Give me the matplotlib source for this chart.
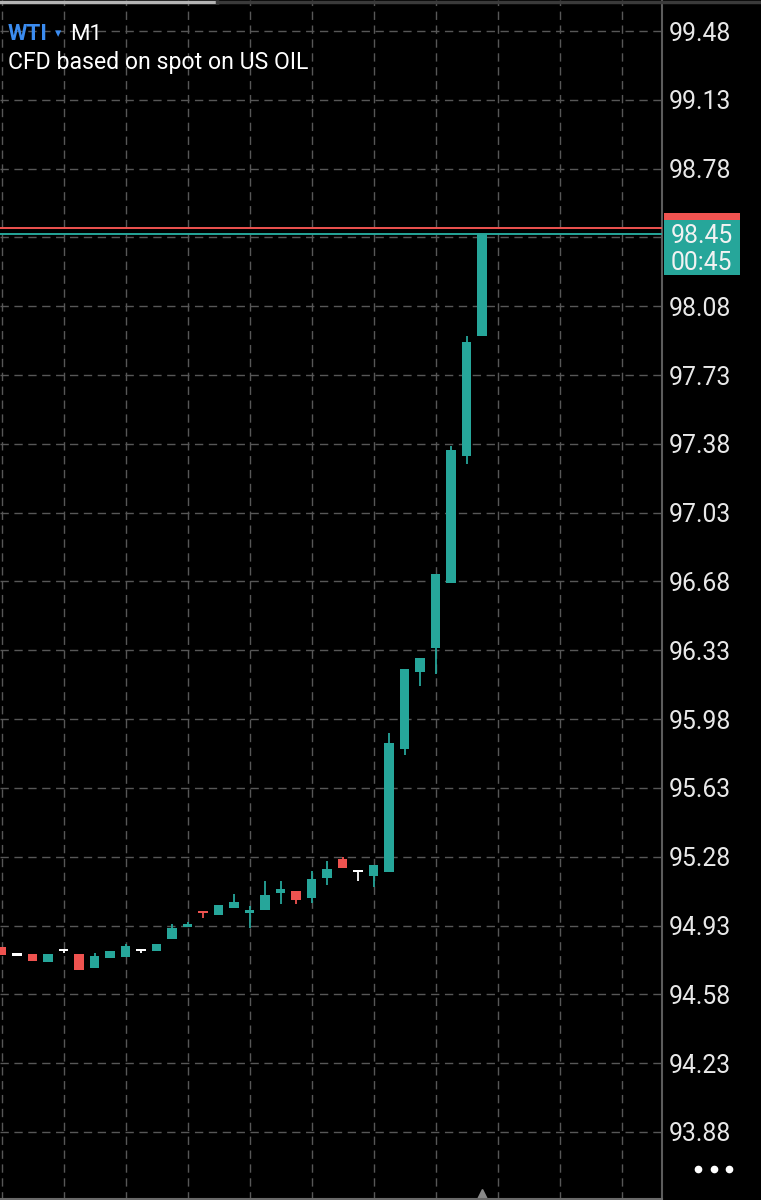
import matplotlib
matplotlib.use("Agg")
import matplotlib.pyplot as plt
from matplotlib.patches import Rectangle
from matplotlib.lines import Line2D
import matplotlib.transforms as mtransforms

# ---- data ----
opens  = [94.820, 94.777, 94.787, 94.744, 94.799, 94.787, 94.713, 94.765,
          94.772, 94.799, 94.802, 94.860, 94.922, 95.000, 94.984, 95.021,
          94.994, 95.010, 95.094, 95.106, 95.070, 95.173, 95.267, 95.200,
          95.183, 95.200, 95.830, 96.220, 96.340, 96.670, 97.320, 97.930]
highs  = [94.820, 94.777, 94.787, 94.787, 94.811, 94.787, 94.789, 94.799,
          94.838, 94.799, 94.838, 94.938, 94.949, 95.000, 95.036, 95.090,
          95.028, 95.155, 95.155, 95.106, 95.209, 95.257, 95.279, 95.200,
          95.239, 95.910, 96.235, 96.290, 96.720, 97.370, 97.930, 98.450]
lows   = [94.781, 94.777, 94.752, 94.744, 94.789, 94.702, 94.713, 94.765,
          94.772, 94.789, 94.802, 94.860, 94.922, 94.968, 94.984, 95.021,
          94.920, 95.010, 95.039, 95.039, 95.045, 95.138, 95.223, 95.158,
          95.125, 95.200, 95.800, 96.150, 96.210, 96.670, 97.280, 97.930]
closes = [94.781, 94.777, 94.752, 94.787, 94.799, 94.702, 94.777, 94.799,
          94.826, 94.799, 94.838, 94.916, 94.938, 94.992, 95.036, 95.050,
          95.007, 95.087, 95.116, 95.062, 95.167, 95.218, 95.223, 95.200,
          95.239, 95.860, 96.235, 96.290, 96.720, 97.350, 97.900, 98.450]
bid_price = 98.45
ask_price = 98.48
countdown = "00:45"
price_ticks = [93.88, 94.23, 94.58, 94.93, 95.28, 95.63, 95.98, 96.33, 96.68,
               97.03, 97.38, 97.73, 98.08, 98.43, 98.78, 99.13, 99.48]
hidden_tick = 98.43  # label covered by the live price box
symbol = "WTI"
timeframe = "M1"
description = "CFD based on spot on US OIL"

# ---- style ----
TEAL = "#26a69a"
RED = "#ef5350"
WHITE = "#ffffff"
GRID = "#575757"
TXT = "#e8e8e8"
plt.rcParams["font.family"] = ["Roboto", "DejaVu Sans"]
plt.rcParams["lines.scale_dashes"] = False

W, H = 761, 1200
fig = plt.figure(figsize=(W / 100, H / 100), dpi=100, facecolor="black")
ax = fig.add_axes([0, 0, 662 / W, 1])
ax.set_facecolor("black")

px_per = 196.6  # pixels per dollar
ax.set_ylim(93.88 - 68 / px_per, 99.48 + 31 / px_per)
ax.set_xlim(-1.5 / 15.5, (662 - 1.5) / 15.5)

# grid
ax.set_xticks(list(range(0, 44, 4)))
ax.set_yticks(price_ticks)
ax.set_yticklabels(["" if p == hidden_tick else f"{p:.2f}" for p in price_ticks])
ax.grid(True, color=GRID, linewidth=1.0, linestyle=(0, (6, 4)))
ax.set_axisbelow(True)
ax.yaxis.tick_right()
ax.tick_params(axis="y", length=0, pad=4.5, labelsize=17.8, labelcolor=TXT)
ax.tick_params(axis="x", length=0, labelbottom=False)
for s in ["top", "left", "bottom"]:
    ax.spines[s].set_visible(False)
ax.spines["right"].set_color("#5c5c5c")
ax.spines["right"].set_linewidth(1.5)

# candles
xs = list(range(len(opens)))
colors = []
for o, c in zip(opens, closes):
    if c > o:
        colors.append(TEAL)
    elif c < o:
        colors.append(RED)
    else:
        colors.append(WHITE)
bottoms = [min(o, c) for o, c in zip(opens, closes)]
heights = [max(abs(c - o), 2.2 / px_per) for o, c in zip(opens, closes)]
ax.vlines(xs, lows, highs, colors=colors, linewidth=1.3, zorder=3)
ax.bar(xs, heights, bottom=bottoms, width=0.62, color=colors, linewidth=0, zorder=4)

# bid / ask lines
ax.axhline(ask_price, color=RED, linewidth=1.4, zorder=5)
ax.axhline(bid_price, color=TEAL, linewidth=1.4, zorder=5)

# price labels on axis
bt = mtransforms.blended_transform_factory(ax.transAxes, ax.transData)
x0 = 664 / 662
bw = (740 - 664) / 662
ax.add_patch(Rectangle((x0, ask_price - 14.7 / px_per), bw, 29.4 / px_per,
                       transform=bt, facecolor=RED, edgecolor="none",
                       clip_on=False, zorder=10))
ax.add_patch(Rectangle((x0, bid_price - 41 / px_per), bw, 54.3 / px_per,
                       transform=bt, facecolor=TEAL, edgecolor="none",
                       clip_on=False, zorder=12))
ax.text(671 / 662, bid_price - 2 / px_per, f"{bid_price:.2f}", transform=bt,
        color="#f2f2f2", fontsize=17.8, va="center", ha="left", clip_on=False, zorder=13)
ax.text(671 / 662, bid_price - 29 / px_per, countdown, transform=bt,
        color="#f2f2f2", fontsize=17.8, va="center", ha="left", clip_on=False, zorder=13)

# current-bar marker at bottom
bx = mtransforms.blended_transform_factory(ax.transData, ax.transAxes)
ax.plot([xs[-1]], [1 / H], marker="^", markersize=14, color="#8a8a8a",
        transform=bx, clip_on=False, zorder=10, linestyle="none")

# header texts
fig.text(8 / W, 1 - 34 / H, symbol, color="#3b8cf0", fontsize=16,
         fontweight="bold", va="center", ha="left")
fig.text(55 / W, 1 - 34 / H, "\u25BE", color="#3b8cf0", fontsize=9,
         va="center", ha="left", family=["DejaVu Sans"])
fig.text(70 / W, 1 - 34 / H, timeframe, color=WHITE, fontsize=16,
         va="center", ha="left")
fig.text(8 / W, 1 - 62 / H, description, color=WHITE, fontsize=16.6,
         va="center", ha="left")

# top strip and bottom line
fig.add_artist(Line2D([0, 217 / W], [1 - 1.5 / H] * 2, color="#b4b4b4",
                      linewidth=2.5, transform=fig.transFigure))
fig.add_artist(Line2D([217 / W, 1], [1 - 1.5 / H] * 2, color="#3a3a3a",
                      linewidth=2.5, transform=fig.transFigure))
fig.add_artist(Line2D([0, 662 / W], [0.6 / H] * 2, color="#6a6a6a",
                      linewidth=1.5, transform=fig.transFigure))

# menu dots
fig.add_artist(Line2D([698 / W, 714 / W, 729 / W], [1 - 1169 / H] * 3,
                      color=WHITE, marker="o", markersize=4.5, linestyle="none",
                      transform=fig.transFigure))

fig.savefig("out.png", dpi=100, facecolor="black")
